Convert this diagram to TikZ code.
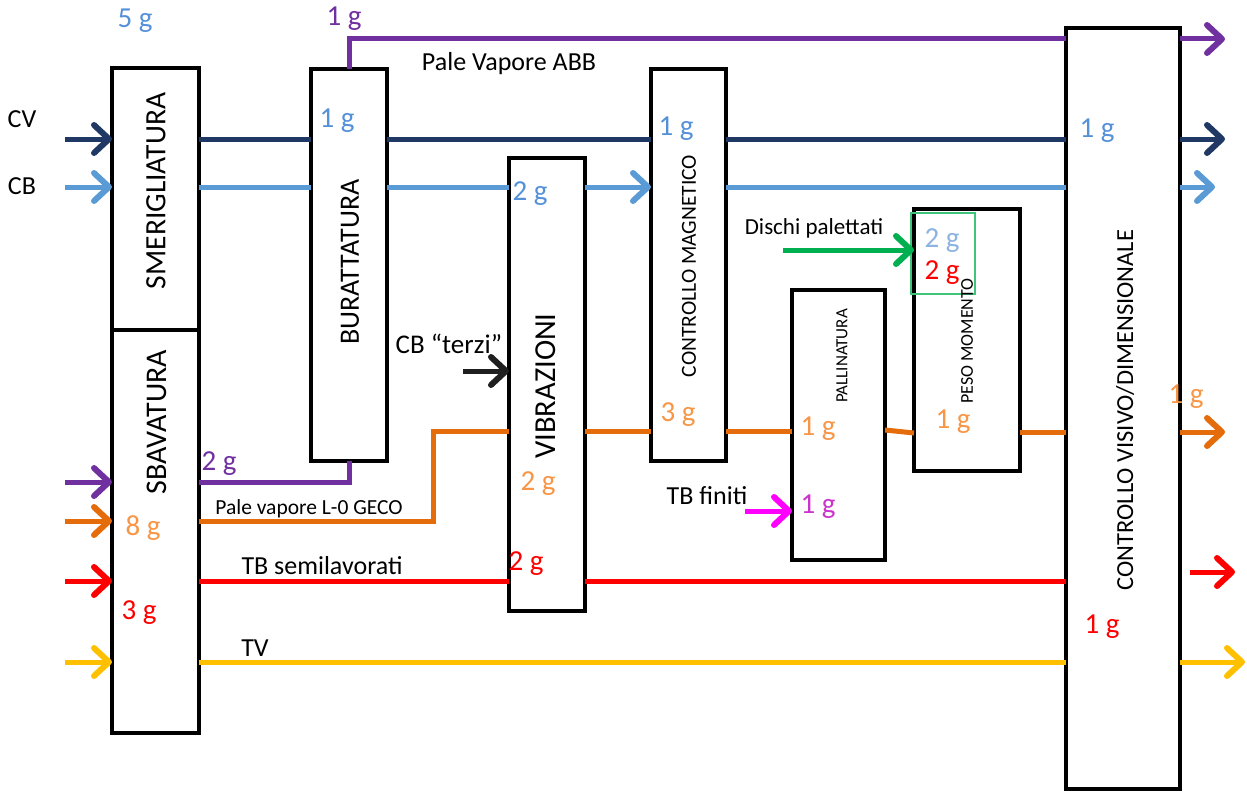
\documentclass[tikz,border=0pt]{standalone}
\usepackage{fontspec}
\setmainfont{Carlito}
\usetikzlibrary{arrows.meta}
\definecolor{navy}{HTML}{1F3864}
\definecolor{lblue}{HTML}{5B9BD5}
\definecolor{lbluet}{HTML}{5591D8}
\definecolor{pblue}{HTML}{8DB3E2}
\definecolor{purp}{HTML}{7030A0}
\definecolor{orng}{HTML}{E46C0A}
\definecolor{orngt}{HTML}{F79646}
\definecolor{redc}{HTML}{FF0000}
\definecolor{yell}{HTML}{FFC000}
\definecolor{grn}{HTML}{00B050}
\definecolor{mag}{HTML}{FF00FF}
\definecolor{magt}{HTML}{CC33CC}
\definecolor{blk}{HTML}{1F1F1F}
\begin{document}
\begin{tikzpicture}[x=1pt,y=-1pt,
  box/.style={draw, line width=3.5pt, fill=white, anchor=north west, inner sep=0pt, outer sep=0pt},
  btxt/.style={rotate=90, inner sep=0pt},
  flow/.style={line width=5pt},
  arr/.style={-{Straight Barb[length=15pt,width=28pt,line width=6pt,round]}},
  lbl/.style={inner sep=0pt, font=\fontsize{29}{29}\selectfont},
  txt/.style={inner sep=0pt, font=\fontsize{26}{26}\selectfont}]
\useasboundingbox (0,0) rectangle (1247,792);

% boxes
\node[box, minimum width=87pt, minimum height=262pt] (smer) at (112,68) {};
\node[box, minimum width=87pt, minimum height=403pt] (sbav) at (112,330) {};
\node[box, minimum width=76pt, minimum height=392pt] (bur) at (311,69) {};
\node[box, minimum width=76pt, minimum height=453pt] (vib) at (509,158) {};
\node[box, minimum width=75pt, minimum height=392pt] (cmag) at (651,69) {};
\node[box, minimum width=93pt, minimum height=270pt] (pall) at (792,290) {};
\node[box, minimum width=106pt, minimum height=262pt] (peso) at (914,209) {};
\node[box, minimum width=114pt, minimum height=761pt] (cvd) at (1066,28) {};
\node[draw=grn!75, line width=1.5pt, anchor=north west, inner sep=0pt, outer sep=0pt, minimum width=64pt, minimum height=81pt] (gbox) at (911,213) {};

% box texts
\node[btxt, font=\fontsize{29.5}{29.5}\selectfont] (tsmer) at (156,191) {SMERIGLIATURA};
\node[btxt, font=\fontsize{30}{30}\selectfont] (tsbav) at (157,422) {SBAVATURA};
\node[btxt, font=\fontsize{28}{28}\selectfont] (tbur) at (350,262) {BURATTATURA};
\node[btxt, font=\fontsize{30.5}{30.5}\selectfont] (tvib) at (546,386) {VIBRAZIONI};
\node[btxt, font=\fontsize{21.5}{21.5}\selectfont] (tcmag) at (689,266) {CONTROLLO MAGNETICO};
\node[btxt, font=\fontsize{17}{17}\selectfont] (tpall) at (842,356) {PALLINATURA};
\node[btxt, font=\fontsize{18}{18}\selectfont] (tpeso) at (967,341) {PESO MOMENTO};
\node[btxt, font=\fontsize{24.5}{24.5}\selectfont] (tcvd) at (1125,410) {CONTROLLO VISIVO/DIMENSIONALE};

% row coordinates
\coordinate (rP) at (0,39);
\coordinate (rCV) at (0,139);
\coordinate (rCB) at (0,187);
\coordinate (rP2) at (0,482);
\coordinate (rO) at (0,521);
\coordinate (rO2) at (0,431);
\coordinate (rR) at (0,581);
\coordinate (rY) at (0,662);

% CV navy
\coordinate (inCV) at (65,139);
\coordinate (outCV) at (1225,139);
\draw[flow, navy, arr] (inCV) -- (smer.west |- rCV);
\draw[flow, navy] (smer.east |- rCV) -- (bur.west |- rCV);
\draw[flow, navy] (bur.east |- rCV) -- (cmag.west |- rCV);
\draw[flow, navy] (cmag.east |- rCV) -- (cvd.west |- rCV);
\draw[flow, navy, arr] (cvd.east |- rCV) -- (outCV);

% CB light blue
\coordinate (inCB) at (65,187);
\coordinate (outCB) at (1215,187);
\draw[flow, lblue, arr] (inCB) -- (smer.west |- rCB);
\draw[flow, lblue] (smer.east |- rCB) -- (bur.west |- rCB);
\draw[flow, lblue] (bur.east |- rCB) -- (vib.west |- rCB);
\draw[flow, lblue, arr] (vib.east |- rCB) -- (cmag.west |- rCB);
\draw[flow, lblue] (cmag.east |- rCB) -- (cvd.west |- rCB);
\draw[flow, lblue, arr] (cvd.east |- rCB) -- (outCB);

% purple top
\coordinate (outP) at (1225,39);
\draw[flow, purp] (bur.north) -- (bur.north |- rP) -- (cvd.west |- rP);
\draw[flow, purp, arr] (cvd.east |- rP) -- (outP);

% purple lower
\coordinate (inP2) at (65,482);
\draw[flow, purp, arr] (inP2) -- (sbav.west |- rP2);
\draw[flow, purp] (sbav.east |- rP2) -- (bur.south |- rP2) -- (bur.south);

% orange
\coordinate (inO) at (65,521);
\coordinate (oStep) at (433,431);
\coordinate (outO) at (1225,432);
\draw[flow, orng, arr] (inO) -- (sbav.west |- rO);
\draw[flow, orng] (sbav.east |- rO) -- (oStep |- rO) -- (oStep) -- (vib.west |- rO2);
\draw[flow, orng] (vib.east |- rO2) -- (cmag.west |- rO2);
\draw[flow, orng] (cmag.east |- rO2) -- (pall.west |- rO2);
\draw[flow, orng] (pall.east |- 0,430) -- (peso.west |- 0,433);
\draw[flow, orng] (peso.east |- 0,432) -- (cvd.west |- 0,432);
\draw[flow, orng, arr] (cvd.east |- 0,432) -- (outO);

% red
\coordinate (inR) at (65,581);
\coordinate (outRs) at (1190,572);
\coordinate (outRe) at (1235,572);
\draw[flow, redc, arr] (inR) -- (sbav.west |- rR);
\draw[flow, redc] (sbav.east |- rR) -- (vib.west |- rR);
\draw[flow, redc] (vib.east |- rR) -- (cvd.west |- rR);
\draw[flow, redc, arr] (outRs) -- (outRe);

% yellow
\coordinate (inY) at (65,662);
\coordinate (outY) at (1245,662);
\draw[flow, yell, arr] (inY) -- (sbav.west |- rY);
\draw[flow, yell] (sbav.east |- rY) -- (cvd.west |- rY);
\draw[flow, yell, arr] (cvd.east |- rY) -- (outY);

% other inputs
\coordinate (inG) at (783,250);
\draw[flow, grn, arr] (inG) -- (peso.west |- inG);
\coordinate (inK) at (463,371);
\draw[flow, blk, arr] (inK) -- (vib.west |- inK);
\coordinate (inM) at (745,511);
\draw[flow, mag, arr] (inM) -- (pall.west |- inM);

% text labels
\node[txt] (lCV) at (22,119) {CV};
\node[txt] (lCB) at (22,186) {CB};
\node[txt] (lABB) at (509,64) {Pale Vapore ABB};
\node[inner sep=0pt, font=\fontsize{27}{27}\selectfont] (lterzi) at (449,344) {CB “terzi”};
\node[inner sep=0pt, font=\fontsize{21.5}{21.5}\selectfont] (lGECO) at (309,509) {Pale vapore L-0 GECO};
\node[txt] (lTBs) at (322,566) {TB semilavorati};
\node[txt] (lTV) at (255,648) {TV};
\node[inner sep=0pt, font=\fontsize{23}{23}\selectfont] (lDP) at (814,228) {Dischi palettati};
\node[txt] (lTBf) at (707,496) {TB finiti};

% quantity labels
\node[lbl, text=lbluet] at (135,21) {5 g};
\node[lbl, text=purp] at (344,19) {1 g};
\node[lbl, text=lbluet] at (337,121) {1 g};
\node[lbl, text=lbluet] at (676,129) {1 g};
\node[lbl, text=lbluet] at (1097,131) {1 g};
\node[lbl, text=lbluet] at (530,194) {2 g};
\node[lbl, text=purp] at (219,464) {2 g};
\node[lbl, text=orngt] at (143,528) {8 g};
\node[lbl, text=redc] at (139,613) {3 g};
\node[lbl, text=orngt] at (538,484) {2 g};
\node[lbl, text=redc] at (526,564) {2 g};
\node[lbl, text=orngt] at (678,415) {3 g};
\node[lbl, text=orngt] at (818,429) {1 g};
\node[lbl, text=orngt] at (953,422) {1 g};
\node[lbl, text=orngt] at (1186,397) {1 g};
\node[lbl, text=redc] at (1102,627) {1 g};
\node[lbl, text=magt] at (818,507) {1 g};
\node[lbl, text=pblue] at (942,241) {2 g};
\node[lbl, text=redc] at (942,273) {2 g};
\end{tikzpicture}
\end{document}
